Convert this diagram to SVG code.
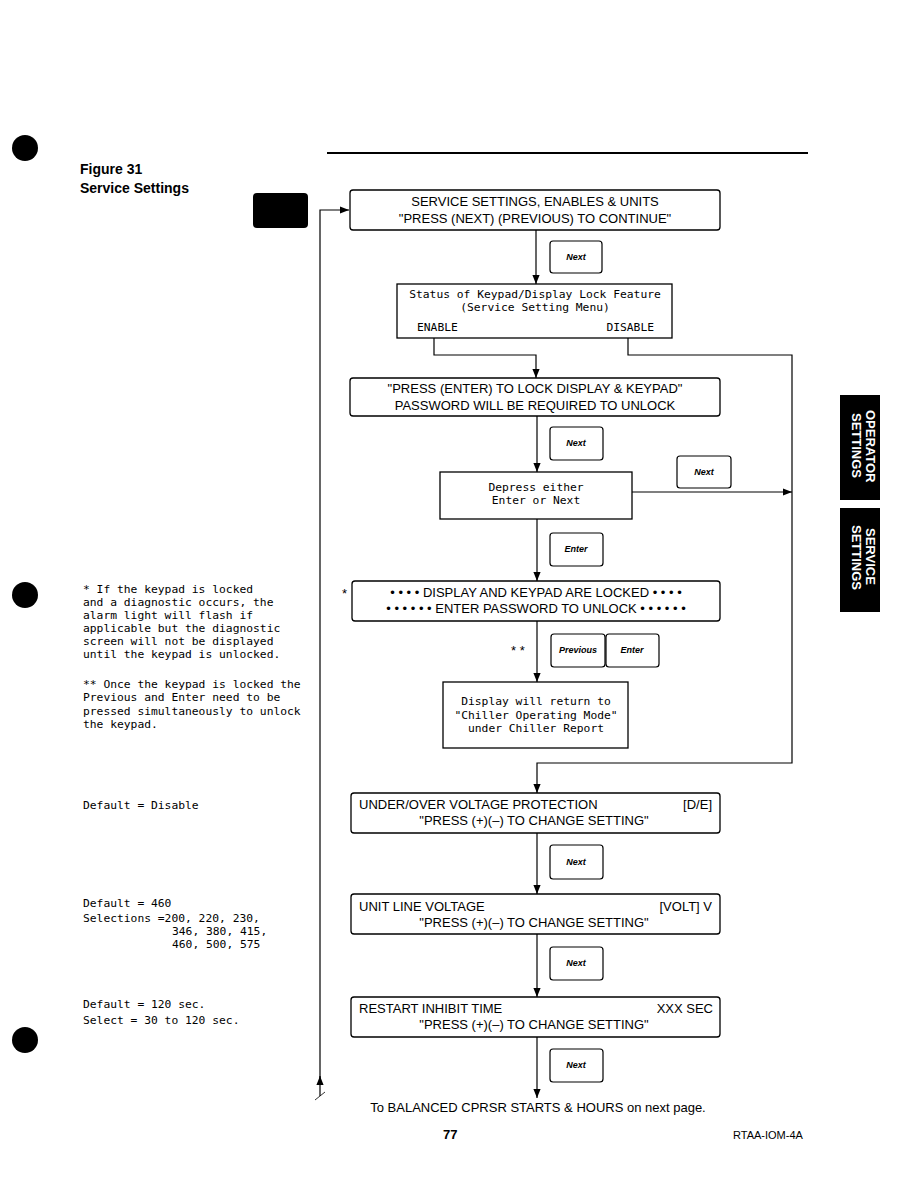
<svg xmlns="http://www.w3.org/2000/svg" width="918" height="1188" viewBox="0 0 918 1188">
<style>
.bx{fill:#fff;stroke:#000;stroke-width:1.3}
.key{fill:#fff;stroke:#000;stroke-width:1.2}
.ln{fill:none;stroke:#000;stroke-width:1.2}
.s{font-family:"Liberation Sans",Arial,sans-serif;font-size:13px;fill:#000}
.m{font-family:"DejaVu Sans Mono","Liberation Mono",monospace;font-size:11.3px;fill:#000}
.k{font-family:"Liberation Sans",Arial,sans-serif;font-size:9px;font-weight:bold;font-style:italic;fill:#000;text-anchor:middle}
.c{text-anchor:middle}
.tab{font-family:"Liberation Sans",Arial,sans-serif;font-size:13px;font-weight:bold;fill:#fff}
</style>
<defs>
<marker id="ah" viewBox="0 0 10 10" refX="10" refY="5" markerWidth="11" markerHeight="9" markerUnits="userSpaceOnUse" orient="auto">
<path d="M0,1 L10,5 L0,9 Z" fill="#000"/>
</marker>
</defs>
<rect width="918" height="1188" fill="#fff"/>

<g id="page">
<line x1="327" y1="153" x2="808" y2="153" stroke="#000" stroke-width="2"/>
<circle cx="25" cy="148" r="13" fill="#000"/>
<circle cx="25" cy="595" r="13" fill="#000"/>
<circle cx="25" cy="1040" r="13" fill="#000"/>
<text x="80" y="174" font-family="Liberation Sans,Arial,sans-serif" font-size="14" font-weight="bold">Figure 31</text>
<text x="80" y="193" font-family="Liberation Sans,Arial,sans-serif" font-size="14" font-weight="bold">Service Settings</text>
<rect x="253" y="193" width="55" height="35" rx="4" fill="#000"/>
<rect x="840" y="395" width="40" height="105" fill="#000"/>
<text class="tab" transform="translate(866,410) rotate(90)">OPERATOR</text>
<text class="tab" transform="translate(852,413) rotate(90)">SETTINGS</text>
<rect x="840" y="508" width="40" height="104" fill="#000"/>
<text class="tab" transform="translate(866,528) rotate(90)">SERVICE</text>
<text class="tab" transform="translate(852,525) rotate(90)">SETTINGS</text>
<text x="443" y="1139" font-family="Liberation Sans,Arial,sans-serif" font-size="13" font-weight="bold">77</text>
<text x="733" y="1139" font-family="Liberation Sans,Arial,sans-serif" font-size="11">RTAA-IOM-4A</text>
</g>

<g id="notes">
<text class="m" x="83" y="593">* If the keypad is locked</text>
<text class="m" x="83" y="606">and a diagnostic occurs, the</text>
<text class="m" x="83" y="619">alarm light will flash if</text>
<text class="m" x="83" y="632">applicable but the diagnostic</text>
<text class="m" x="83" y="645">screen will not be displayed</text>
<text class="m" x="83" y="658">until the keypad is unlocked.</text>
<text class="m" x="83" y="688">** Once the keypad is locked the</text>
<text class="m" x="83" y="701">Previous and Enter need to be</text>
<text class="m" x="83" y="715">pressed simultaneously to unlock</text>
<text class="m" x="83" y="728">the keypad.</text>
<text class="m" x="83" y="809">Default = Disable</text>
<text class="m" x="83" y="907">Default = 460</text>
<text class="m" x="83" y="922">Selections =200, 220, 230,</text>
<text class="m" x="172" y="935">346, 380, 415,</text>
<text class="m" x="172" y="948">460, 500, 575</text>
<text class="m" x="83" y="1008">Default = 120 sec.</text>
<text class="m" x="83" y="1024">Select = 30 to 120 sec.</text>
</g>

<g id="connectors">
<path class="ln" d="M320,1080 V210 H349" marker-end="url(#ah)"/>
<path class="ln" d="M320,1096 L320,1076" marker-end="url(#ah)"/>
<line x1="315" y1="1100" x2="325" y2="1092" stroke="#000" stroke-width="0.8"/>
<path class="ln" d="M536,230 V284" marker-end="url(#ah)"/>
<path class="ln" d="M434,338 V355 H536 V378" marker-end="url(#ah)"/>
<path class="ln" d="M628,338 V355 H792 V763 H537 V793" marker-end="url(#ah)"/>
<path class="ln" d="M537,416 V472" marker-end="url(#ah)"/>
<path class="ln" d="M632,492 H792" marker-end="url(#ah)"/>
<path class="ln" d="M537,519 V581" marker-end="url(#ah)"/>
<path class="ln" d="M537,621 V682" marker-end="url(#ah)"/>
<path class="ln" d="M537,833 V894" marker-end="url(#ah)"/>
<path class="ln" d="M537,934 V997" marker-end="url(#ah)"/>
<path class="ln" d="M537,1037 V1098" marker-end="url(#ah)"/>
<text class="s c" x="538" y="1112" font-size="12">To BALANCED CPRSR STARTS &amp; HOURS on next page.</text>
<text class="s" x="342" y="598">*</text>
<text class="s" x="511" y="655">* *</text>
</g>

<g id="keys">
<rect class="key" x="550" y="241" width="52" height="32" rx="3"/><text class="k" x="576" y="260">Next</text>
<rect class="key" x="550" y="427" width="53" height="33" rx="3"/><text class="k" x="576" y="446">Next</text>
<rect class="key" x="677" y="456" width="54" height="32" rx="3"/><text class="k" x="704" y="475">Next</text>
<rect class="key" x="550" y="533" width="53" height="33" rx="3"/><text class="k" x="576" y="552">Enter</text>
<rect class="key" x="551" y="634" width="54" height="33" rx="3"/><text class="k" x="578" y="653">Previous</text>
<rect class="key" x="606" y="634" width="53" height="33" rx="3"/><text class="k" x="632" y="653">Enter</text>
<rect class="key" x="550" y="845" width="53" height="34" rx="3"/><text class="k" x="576" y="865">Next</text>
<rect class="key" x="550" y="947" width="53" height="33" rx="3"/><text class="k" x="576" y="966">Next</text>
<rect class="key" x="550" y="1049" width="53" height="33" rx="3"/><text class="k" x="576" y="1068">Next</text>
</g>

<g id="n1">
<rect class="bx" x="350" y="190" width="370" height="40" rx="3"/>
<text class="s c" x="535" y="206">SERVICE SETTINGS, ENABLES &amp; UNITS</text>
<text class="s c" x="535" y="223">"PRESS (NEXT) (PREVIOUS) TO CONTINUE"</text>
</g>
<g id="n2">
<rect class="bx" x="397" y="284" width="275" height="54"/>
<text class="m c" x="535" y="298">Status of Keypad/Display Lock Feature</text>
<text class="m c" x="535" y="311">(Service Setting Menu)</text>
<text class="m" x="417" y="331">ENABLE</text>
<text class="m" x="654" y="331" text-anchor="end">DISABLE</text>
</g>
<g id="n3">
<rect class="bx" x="350" y="378" width="370" height="38" rx="3"/>
<text class="s c" x="535" y="393">"PRESS (ENTER) TO LOCK DISPLAY &amp; KEYPAD"</text>
<text class="s c" x="535" y="410">PASSWORD WILL BE REQUIRED TO UNLOCK</text>
</g>
<g id="n4">
<rect class="bx" x="440" y="472" width="192" height="47"/>
<text class="m c" x="536" y="491">Depress either</text>
<text class="m c" x="536" y="504">Enter or Next</text>
</g>
<g id="n5">
<rect class="bx" x="352" y="581" width="368" height="40" rx="3"/>
<text class="s c" x="536" y="597">• • • • DISPLAY AND KEYPAD ARE LOCKED • • • •</text>
<text class="s c" x="536" y="613">• • • • • • ENTER PASSWORD TO UNLOCK • • • • • •</text>
</g>
<g id="n6">
<rect class="bx" x="443" y="682" width="185" height="66"/>
<text class="m c" x="536" y="705">Display will return to</text>
<text class="m c" x="536" y="719">"Chiller Operating Mode"</text>
<text class="m c" x="536" y="732">under Chiller Report</text>
</g>
<g id="n7">
<rect class="bx" x="351" y="793" width="369" height="40" rx="3"/>
<text class="s" x="359" y="809">UNDER/OVER VOLTAGE PROTECTION</text>
<text class="s" x="712" y="809" text-anchor="end">[D/E]</text>
<text class="s c" x="534" y="825">"PRESS (+)(–) TO CHANGE SETTING"</text>
</g>
<g id="n8">
<rect class="bx" x="351" y="894" width="369" height="40" rx="3"/>
<text class="s" x="359" y="911">UNIT LINE VOLTAGE</text>
<text class="s" x="712" y="911" text-anchor="end">[VOLT] V</text>
<text class="s c" x="534" y="927">"PRESS (+)(–) TO CHANGE SETTING"</text>
</g>
<g id="n9">
<rect class="bx" x="351" y="997" width="369" height="40" rx="3"/>
<text class="s" x="359" y="1013">RESTART INHIBIT TIME</text>
<text class="s" x="713" y="1013" text-anchor="end">XXX SEC</text>
<text class="s c" x="534" y="1029">"PRESS (+)(–) TO CHANGE SETTING"</text>
</g>
</svg>
